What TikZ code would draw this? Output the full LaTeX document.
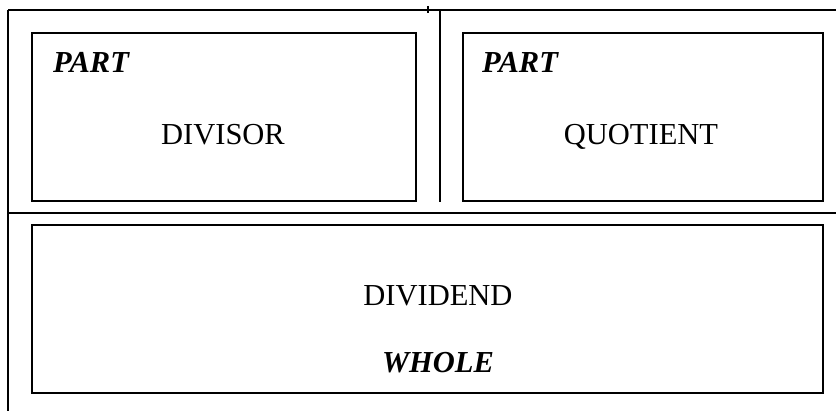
\documentclass[tikz,border=0pt]{standalone}
\usepackage{fontspec}
\setmainfont{Liberation Serif}
\begin{document}
\begin{tikzpicture}[x=1pt,y=-1pt,
  rule/.style={line width=1.6pt},
  panel/.style={draw,line width=1.8pt,rectangle,inner sep=0pt},
  label/.style={font=\fontsize{30.5}{36}\selectfont,inner sep=0pt,anchor=base},
  tag/.style={font=\fontsize{30.5}{36}\selectfont\bfseries\itshape,inner sep=0pt,anchor=base west}]
\useasboundingbox (0,0) rectangle (836,411);
% table rules
\draw[rule] (8,10) -- (836,10);
\draw[rule] (8,10) -- (8,411);
\draw[rule] (8,213) -- (836,213);
\draw[rule] (440,10) -- (440,202);
\draw[line width=1.2pt] (428,6) -- (428,13);
% panels
\node[panel,minimum width=384pt,minimum height=168pt] (divbox) at (224,117) {};
\node[panel,minimum width=360pt,minimum height=168pt] (quobox) at (643,117) {};
\node[panel,minimum width=791pt,minimum height=168pt] (whlbox) at (427.5,309) {};
% texts
\node[tag] (part1) at (53,73) {PART};
\node[tag] (part2) at (482,73) {PART};
\node[label] (divisor) at (223,145) {DIVISOR};
\node[label] (quotient) at (641,145) {QUOTIENT};
\node[label] (dividend) at (438,306) {DIVIDEND};
\node[label,font=\fontsize{30.5}{36}\selectfont\bfseries\itshape] (whole) at (438,373) {WHOLE};
\end{tikzpicture}
\end{document}
